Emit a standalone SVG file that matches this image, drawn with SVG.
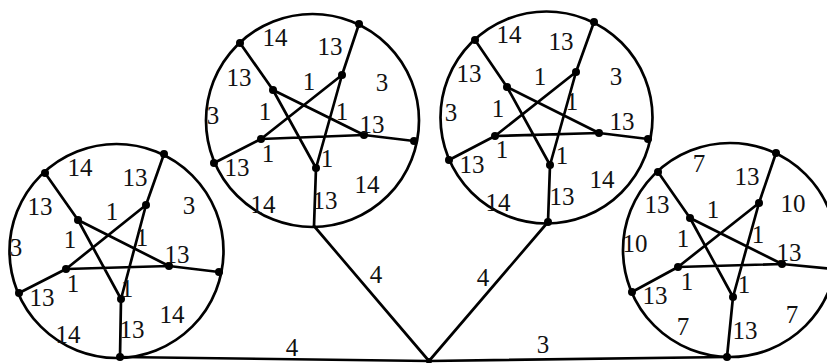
<svg xmlns="http://www.w3.org/2000/svg" width="827" height="363" viewBox="0 0 827 363">
<style>
.c{fill:none;stroke:#000;stroke-width:2.7}
.e{stroke:#000;stroke-width:2.7;fill:none;stroke-linecap:round}
.d{fill:#000}
text{font-family:"Liberation Serif","Times New Roman",serif;font-size:25px;fill:#111;text-anchor:middle}
</style>
<rect width="827" height="363" fill="#fff"/>
<g id="connectors">
<line class="e" x1="120" y1="357" x2="429" y2="361"/>
<line class="e" x1="429" y1="361" x2="314" y2="226"/>
<line class="e" x1="429" y1="361" x2="548" y2="222"/>
<line class="e" x1="429" y1="361" x2="727" y2="357"/>
<text x="292" y="356">4</text>
<text x="376" y="283">4</text>
<text x="483" y="286">4</text>
<text x="543" y="353">3</text>
</g>
<g id="hub"><circle class="d" cx="429" cy="361" r="3"/></g>
<g id="g1">
<circle class="c" cx="116.5" cy="251" r="107"/>
<path class="e" d="M45,173 L78,220 M164,154 L146,205 M19,293 L66,269 M219,272 L169,266 M120,357 L121,299 M78,220 L121,299 M78,220 L169,266 M146,205 L66,269 M146,205 L121,299 M66,269 L169,266"/>
<g class="d"><circle cx="45" cy="173" r="4"/><circle cx="164" cy="154" r="4"/><circle cx="19" cy="293" r="4"/><circle cx="219" cy="272" r="4"/><circle cx="120" cy="357" r="4"/><circle cx="146" cy="205" r="4"/><circle cx="78" cy="220" r="4"/><circle cx="66" cy="269" r="4"/><circle cx="169" cy="266" r="4"/><circle cx="121" cy="299" r="4"/></g>
<text x="80" y="176">14</text><text x="135" y="186">13</text><text x="189" y="214">3</text><text x="40" y="215">13</text><text x="112" y="220">1</text><text x="70" y="248">1</text><text x="142" y="246">1</text><text x="16" y="256">3</text><text x="177" y="263">13</text><text x="73" y="292">1</text><text x="42" y="306">13</text><text x="127" y="297">1</text><text x="172" y="323">14</text><text x="68" y="343">14</text><text x="132" y="338">13</text>
</g>
<g id="g2">
<circle class="c" cx="312.5" cy="120.5" r="106.5"/>
<path class="e" d="M240,43 L273,90 M359,24 L342,75 M214,163 L261,139 M414,141 L364,135 M314,226 L316,168 M273,90 L316,168 M273,90 L364,135 M342,75 L261,139 M342,75 L316,168 M261,139 L364,135"/>
<g class="d"><circle cx="240" cy="43" r="4"/><circle cx="359" cy="24" r="4"/><circle cx="214" cy="163" r="4"/><circle cx="414" cy="141" r="4"/><circle cx="342" cy="75" r="4"/><circle cx="273" cy="90" r="4"/><circle cx="261" cy="139" r="4"/><circle cx="364" cy="135" r="4"/><circle cx="316" cy="168" r="4"/></g>
<text x="275" y="46">14</text><text x="330" y="55">13</text><text x="382" y="91">3</text><text x="239" y="86">13</text><text x="309" y="90">1</text><text x="265" y="120">1</text><text x="342" y="120">1</text><text x="213" y="124">3</text><text x="372" y="133">13</text><text x="268" y="162">1</text><text x="237" y="176">13</text><text x="327" y="167">1</text><text x="367" y="193">14</text><text x="263" y="213">14</text><text x="325" y="209">13</text>
</g>
<g id="g3">
<circle class="c" cx="546.5" cy="117.5" r="106"/>
<path class="e" d="M475,40 L507,87 M594,22 L576,72 M449,160 L495,136 M648,139 L599,133 M548,222 L550,165 M507,87 L550,165 M507,87 L599,133 M576,72 L495,136 M576,72 L550,165 M495,136 L599,133"/>
<g class="d"><circle cx="475" cy="40" r="4"/><circle cx="594" cy="22" r="4"/><circle cx="449" cy="160" r="4"/><circle cx="648" cy="139" r="4"/><circle cx="548" cy="222" r="4"/><circle cx="576" cy="72" r="4"/><circle cx="507" cy="87" r="4"/><circle cx="495" cy="136" r="4"/><circle cx="599" cy="133" r="4"/><circle cx="550" cy="165" r="4"/></g>
<text x="509" y="43">14</text><text x="561" y="50">13</text><text x="616" y="85">3</text><text x="469" y="82">13</text><text x="540" y="85">1</text><text x="498" y="117">1</text><text x="572" y="110">1</text><text x="451" y="121">3</text><text x="622" y="130">13</text><text x="502" y="158">1</text><text x="472" y="173">13</text><text x="562" y="164">1</text><text x="602" y="188">14</text><text x="498" y="211">14</text><text x="562" y="205">13</text>
</g>
<g id="g4">
<circle class="c" cx="730" cy="250" r="107"/>
<path class="e" d="M658,172 L690,218 M776,153 L759,203 M632,292 L678,267 M833,269 L782,264 M727,357 L733,297 M690,218 L733,297 M690,218 L782,264 M759,203 L678,267 M759,203 L733,297 M678,267 L782,264"/>
<g class="d"><circle cx="658" cy="172" r="4"/><circle cx="776" cy="153" r="4"/><circle cx="632" cy="292" r="4"/><circle cx="727" cy="357" r="4"/><circle cx="759" cy="203" r="4"/><circle cx="690" cy="218" r="4"/><circle cx="678" cy="267" r="4"/><circle cx="782" cy="264" r="4"/><circle cx="733" cy="297" r="4"/></g>
<text x="699" y="172">7</text><text x="747" y="185">13</text><text x="793" y="212">10</text><text x="657" y="213">13</text><text x="713" y="218">1</text><text x="683" y="247">1</text><text x="758" y="243">1</text><text x="635" y="252">10</text><text x="789" y="261">13</text><text x="687" y="290">1</text><text x="655" y="304">13</text><text x="744" y="293">1</text><text x="792" y="323">7</text><text x="683" y="335">7</text><text x="745" y="339">13</text>
</g>
</svg>
